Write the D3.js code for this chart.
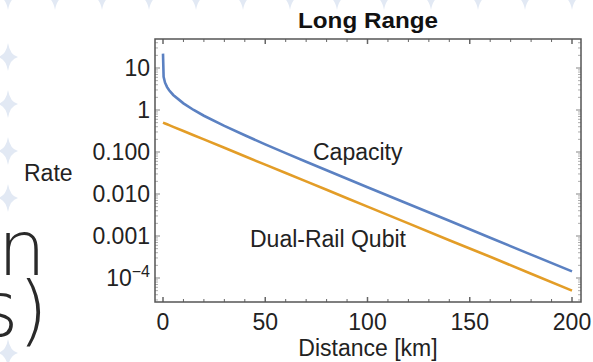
<!DOCTYPE html>
<html>
<head>
<meta charset="utf-8">
<script src="https://cdn.jsdelivr.net/npm/d3@7"></script>
<style>
  body { margin: 0; background: #fff; }
  svg { display: block; font-family: "Liberation Sans", Arial, sans-serif; }
</style>
</head>
<body>
<svg id="chart" width="593" height="362"></svg>
<script>
// distance along the fibre, km
const distance = [0, 0.3, 1, 2, 3, 5, 10, 15, 20, 30, 40, 50, 60, 70, 80, 90, 100, 120, 140, 160, 180, 200];
// capacity (upper curve)
const capacity = [22, 6.2, 4.47, 3.51, 2.95, 2.28, 1.44, 1.0, 0.73, 0.42, 0.25, 0.152, 0.094, 0.0586, 0.0367, 0.023, 0.0145, 0.0058, 0.0023, 0.00091, 0.00036, 0.000144];
// dual-rail qubit (lower curve)
const dualRail = [0.5, 0.493, 0.478, 0.456, 0.436, 0.397, 0.316, 0.251, 0.2, 0.126, 0.079, 0.05, 0.0316, 0.02, 0.0126, 0.0079, 0.005, 0.002, 0.00079, 0.00032, 0.000126, 0.00005];

const xTicks = [0, 50, 100, 150, 200];
const yTicks = [10, 1, 0.1, 0.01, 0.001, 0.0001];
const yTickLabels = ["10", "1", "0.100", "0.010", "0.001", "10^-4"];

const svg = d3.select("#chart");

// slide background decoration
const star = "M0,-14 Q2,-2 10,0 Q2,2 0,14 Q-2,2 -10,0 Q-2,-2 0,-14 Z";
const topRow = d3.range(0, 13).map(i => [8 + 47 * i, -4]);
const leftCol = [57, 104, 151, 198, 353].map(y => [8, y]);
svg.selectAll(".deco")
    .data(topRow.concat(leftCol))
    .join("path")
        .attr("class", "deco")
        .attr("d", star)
        .attr("transform", d => `translate(${d[0]},${d[1]})`)
        .attr("fill", "#e2e9f4");

// clipped slide text behind the chart
svg.append("text")
    .attr("x", 46).attr("y", 275)
    .attr("text-anchor", "end")
    .attr("font-family", "DejaVu Sans, sans-serif")
    .attr("font-weight", 200)
    .attr("font-size", 76)
    .attr("fill", "#2a2a2a")
    .text("n");

svg.append("text")
    .attr("x", 48).attr("y", 336)
    .attr("text-anchor", "end")
    .attr("font-family", "DejaVu Sans, sans-serif")
    .attr("font-weight", 200)
    .attr("font-size", 76)
    .attr("fill", "#2a2a2a")
    .text("s)");

// plot frame
const frameLeft = 155, frameRight = 581, frameTop = 39, frameBottom = 302;

svg.append("rect")
    .attr("x", frameLeft).attr("y", frameTop)
    .attr("width", frameRight - frameLeft).attr("height", frameBottom - frameTop)
    .attr("fill", "#fff");

const x = d3.scaleLinear().domain([0, 200]).range([163, 572]);
const y = d3.scaleLog().domain([0.0001, 10]).range([278, 68]);

// x ticks, major every 50 and minor every 10, bottom and top
const xMinor = d3.range(0, 201, 10);
const tickColor = "#666";
[frameBottom, frameTop].forEach(edge => {
  const dir = edge === frameBottom ? -1 : 1;
  svg.selectAll(null)
      .data(xMinor)
      .join("line")
          .attr("x1", d => x(d)).attr("x2", d => x(d))
          .attr("y1", edge)
          .attr("y2", d => edge + dir * (d % 50 === 0 ? 5 : 3))
          .attr("stroke", tickColor)
          .attr("stroke-width", d => d % 50 === 0 ? 1.5 : 1);
});

// y ticks (log), left and right
const yMinor = [];
for (let e = -5; e <= 1; e++) {
  for (let m = 1; m <= 9; m++) {
    const v = m * Math.pow(10, e);
    if (y(v) > frameTop && y(v) < frameBottom) yMinor.push({ v: v, major: m === 1 });
  }
}
[frameLeft, frameRight].forEach(edge => {
  const dir = edge === frameLeft ? 1 : -1;
  svg.selectAll(null)
      .data(yMinor)
      .join("line")
          .attr("x1", edge)
          .attr("x2", d => edge + dir * (d.major ? 5 : 3))
          .attr("y1", d => y(d.v)).attr("y2", d => y(d.v))
          .attr("stroke", "#999")
          .attr("stroke-width", d => d.major ? 1.2 : 0.8);
});

svg.append("rect")
    .attr("x", frameLeft).attr("y", frameTop)
    .attr("width", frameRight - frameLeft).attr("height", frameBottom - frameTop)
    .attr("fill", "none")
    .attr("stroke", "#555")
    .attr("stroke-width", 1.5);

// tick labels
svg.selectAll(".xlabel")
    .data(xTicks)
    .join("text")
        .attr("class", "xlabel")
        .attr("x", d => x(d))
        .attr("y", 330)
        .attr("text-anchor", "middle")
        .attr("font-size", 23)
        .attr("fill", "#222")
        .text(d => d);

const yLabels = svg.selectAll(".ylabel")
    .data(yTicks)
    .join("text")
        .attr("class", "ylabel")
        .attr("x", 150)
        .attr("y", d => y(d) + 8)
        .attr("text-anchor", "end")
        .attr("font-size", 23)
        .attr("fill", "#222");

yLabels.each(function(d, i) {
  const label = yTickLabels[i];
  const t = d3.select(this);
  if (label.includes("^")) {
    const [base, exp] = label.split("^");
    t.append("tspan").text(base);
    t.append("tspan").attr("dy", -9).attr("font-size", 16).text(exp.replace("-", "\u2212"));
  } else {
    t.text(label);
  }
});

// axis titles
svg.append("text")
    .attr("x", 368).attr("y", 356)
    .attr("text-anchor", "middle")
    .attr("font-size", 23)
    .attr("fill", "#222")
    .text("Distance [km]");

svg.append("text")
    .attr("x", 24).attr("y", 181)
    .attr("font-size", 23)
    .attr("fill", "#222")
    .text("Rate");

svg.append("text")
    .attr("x", 368).attr("y", 28)
    .attr("text-anchor", "middle")
    .attr("font-size", 22)
    .attr("font-weight", "bold")
    .attr("textLength", 140)
    .attr("lengthAdjust", "spacingAndGlyphs")
    .attr("fill", "#111")
    .text("Long Range");

// curves
const line = d3.line()
    .x((d, i) => x(distance[i]))
    .y(d => y(d));

svg.append("path")
    .attr("d", line(dualRail))
    .attr("fill", "none")
    .attr("stroke", "#e39d27")
    .attr("stroke-width", 2.6);

svg.append("path")
    .attr("d", line(capacity))
    .attr("fill", "none")
    .attr("stroke", "#5b81c2")
    .attr("stroke-width", 2.6);

// curve labels
svg.append("text")
    .attr("x", 313).attr("y", 160)
    .attr("font-size", 23)
    .attr("fill", "#222")
    .text("Capacity");

svg.append("text")
    .attr("x", 250).attr("y", 247)
    .attr("font-size", 23)
    .attr("fill", "#222")
    .text("Dual-Rail Qubit");
</script>
</body>
</html>
